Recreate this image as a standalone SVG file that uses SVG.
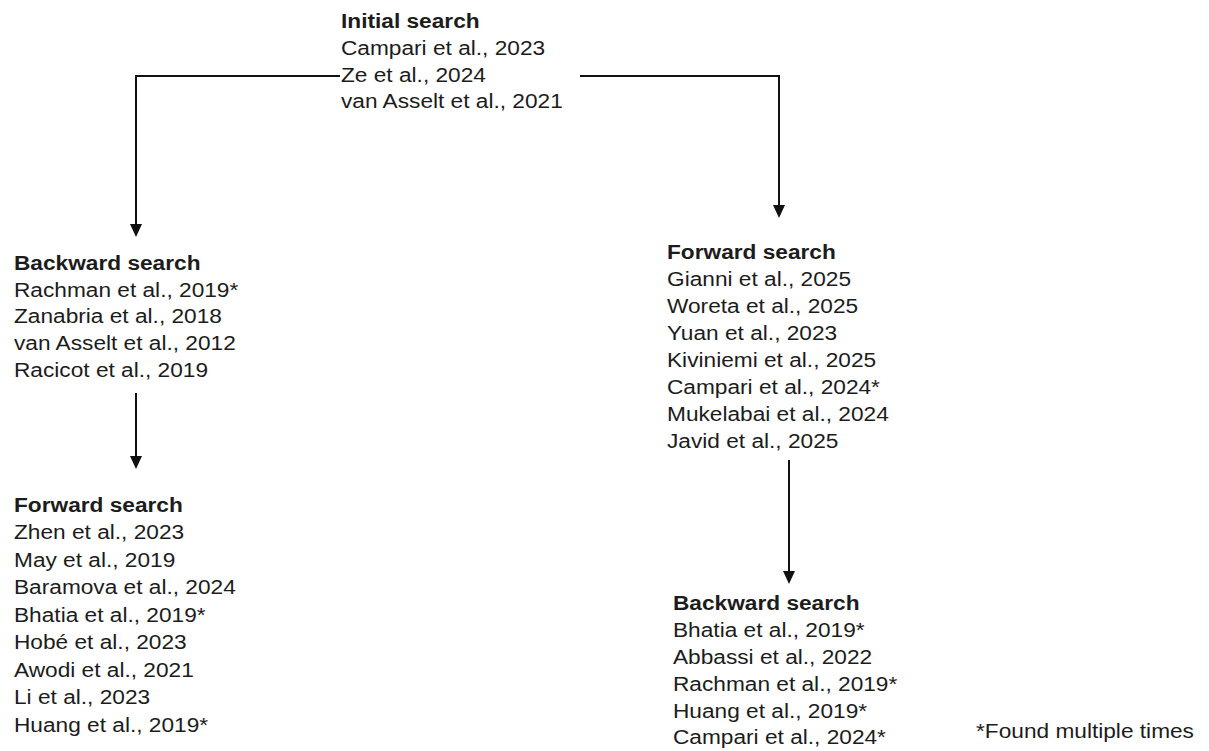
<svg xmlns="http://www.w3.org/2000/svg" width="1209" height="751" viewBox="0 0 1209 751">
  <defs>
    <marker id="arrow" viewBox="0 0 13 12" refX="11" refY="6" markerWidth="13" markerHeight="12" markerUnits="userSpaceOnUse" orient="auto">
      <path d="M0,0 L13,6 L0,12 Z" fill="#111"/>
    </marker>
    <style>
      text { font-family: "Liberation Sans", Arial, sans-serif; font-size: 21px; fill: #1c1c1c; }
      .head { font-weight: bold; }
      .edge { fill: none; stroke: #111; stroke-width: 2; marker-end: url(#arrow); }
    </style>
  </defs>
  <rect width="1209" height="751" fill="#ffffff"/>

  <!-- connectors -->
  <g id="connectors">
    <path class="edge" d="M340,76 H136 V235"/>
    <path class="edge" d="M580,76 H779 V216"/>
    <path class="edge" d="M136,393 V467"/>
    <path class="edge" d="M789,460 V582"/>
  </g>

  <!-- text blocks are drawn slightly wide, as in the original layout -->
  <g id="initial-search" transform="translate(341 0) scale(1.08 1)">
    <text x="0" y="28" class="head">Initial search</text>
    <text x="0" y="55">Campari et al., 2023</text>
    <text x="0" y="82">Ze et al., 2024</text>
    <text x="0" y="108">van Asselt et al., 2021</text>
  </g>

  <g id="backward-search-1" transform="translate(14 0) scale(1.08 1)">
    <text x="0" y="270" class="head">Backward search</text>
    <text x="0" y="297">Rachman et al., 2019*</text>
    <text x="0" y="323">Zanabria et al., 2018</text>
    <text x="0" y="350">van Asselt et al., 2012</text>
    <text x="0" y="377">Racicot et al., 2019</text>
  </g>

  <g id="forward-search-2" transform="translate(14 0) scale(1.08 1)">
    <text x="0" y="512" class="head">Forward search</text>
    <text x="0" y="539.5">Zhen et al., 2023</text>
    <text x="0" y="567">May et al., 2019</text>
    <text x="0" y="594.5">Baramova et al., 2024</text>
    <text x="0" y="622">Bhatia et al., 2019*</text>
    <text x="0" y="649.5">Hobé et al., 2023</text>
    <text x="0" y="677">Awodi et al., 2021</text>
    <text x="0" y="704.5">Li et al., 2023</text>
    <text x="0" y="732">Huang et al., 2019*</text>
  </g>

  <g id="forward-search-1" transform="translate(667 0) scale(1.08 1)">
    <text x="0" y="259" class="head">Forward search</text>
    <text x="0" y="286">Gianni et al., 2025</text>
    <text x="0" y="313">Woreta et al., 2025</text>
    <text x="0" y="340">Yuan et al., 2023</text>
    <text x="0" y="367">Kiviniemi et al., 2025</text>
    <text x="0" y="394">Campari et al., 2024*</text>
    <text x="0" y="421">Mukelabai et al., 2024</text>
    <text x="0" y="448">Javid et al., 2025</text>
  </g>

  <g id="backward-search-2" transform="translate(673 0) scale(1.08 1)">
    <text x="0" y="610" class="head">Backward search</text>
    <text x="0" y="637">Bhatia et al., 2019*</text>
    <text x="0" y="664">Abbassi et al., 2022</text>
    <text x="0" y="691">Rachman et al., 2019*</text>
    <text x="0" y="718">Huang et al., 2019*</text>
    <text x="0" y="744">Campari et al., 2024*</text>
  </g>

  <g id="legend" transform="translate(976 0) scale(1.08 1)">
    <text x="0" y="738">*Found multiple times</text>
  </g>
</svg>
